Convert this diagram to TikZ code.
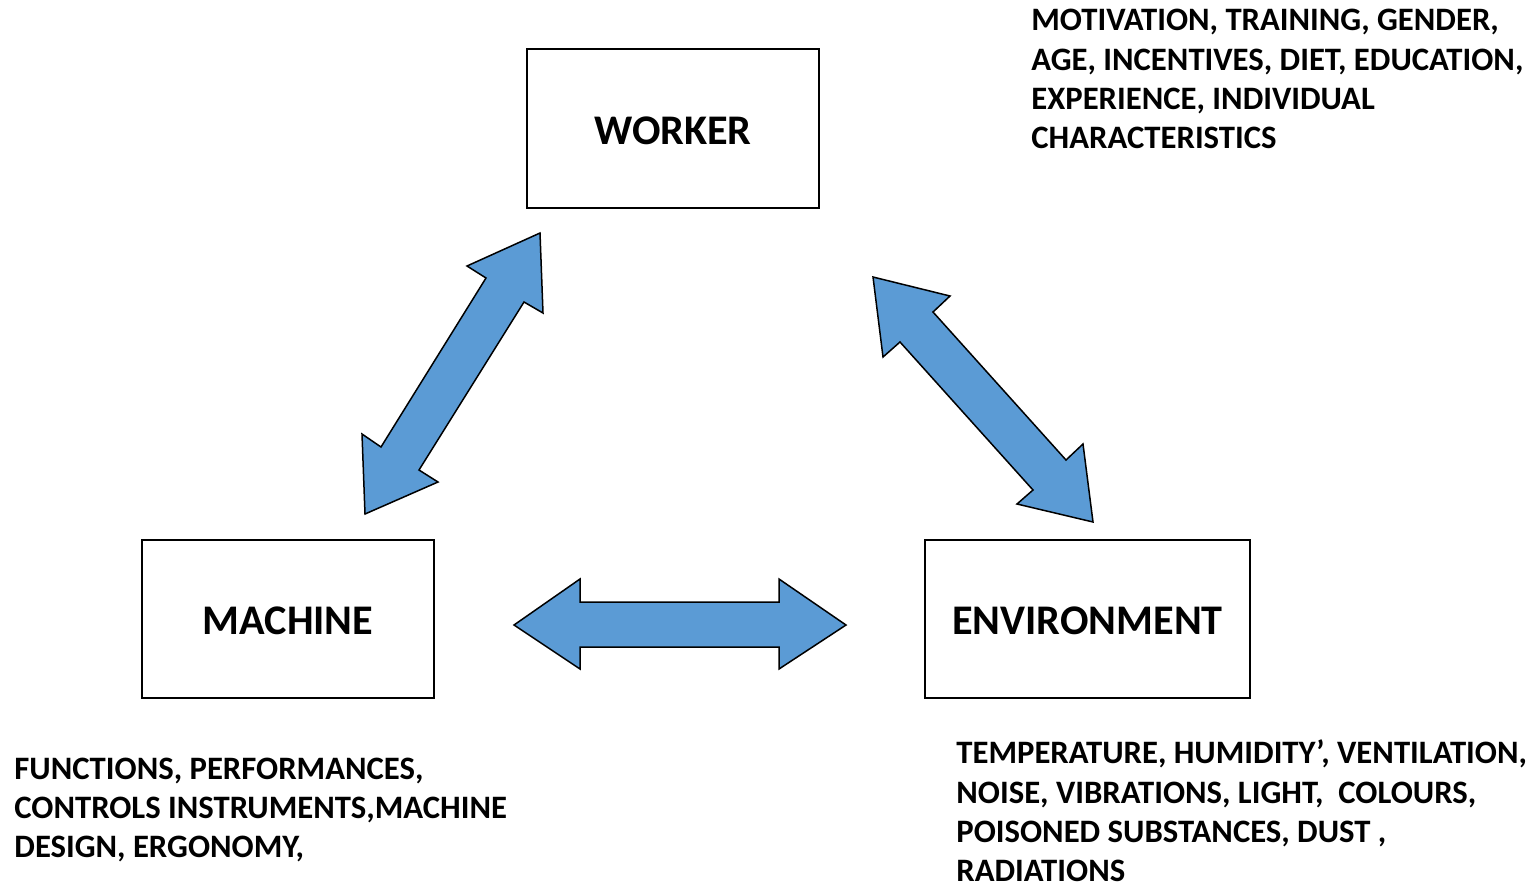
\documentclass[tikz,border=0pt]{standalone}
\usepackage{fontspec}
\setmainfont{Carlito}
\definecolor{arrowblue}{HTML}{5B9BD5}
\begin{document}
\begin{tikzpicture}[x=0.5pt,y=-0.5pt,
  factorbox/.style={draw=black,line width=1pt,fill=white,inner sep=0pt,
    text height=15.6pt,text depth=0pt,
    font=\bfseries\fontsize{21.1}{25}\selectfont},
  fatarrow/.style={draw=black,line width=0.75pt,fill=arrowblue,line join=miter},
  factorlist/.style={anchor=base west,inner sep=0pt,align=left,
    font=\bfseries\fontsize{16.35}{19.6}\selectfont}]
\useasboundingbox (0,0) rectangle (1537,885);

% the three boxes
\node[factorbox,minimum width=146pt,minimum height=79.5pt] (worker) at (673,128.5) {WORKER};
\node[factorbox,minimum width=146pt,minimum height=79pt] (machine) at (288,619) {MACHINE};
\node[factorbox,minimum width=162.5pt,minimum height=79pt] (env) at (1087.5,619) {ENVIRONMENT};

% double-headed block arrows
\draw[fatarrow] (540,233) -- (543,313) -- (524,302) -- (419,470) -- (438,482)
  -- (365,514) -- (362,434) -- (381,447) -- (486,278) -- (467,266) -- cycle;
\draw[fatarrow] (873,277) -- (950,296) -- (933,312) -- (1066,460) -- (1083,444)
  -- (1093,522) -- (1017,504) -- (1033,490) -- (900,342) -- (883,357) -- cycle;
\draw[fatarrow] (514,625) -- (580,579) -- (580,602) -- (779,602) -- (779,579)
  -- (846,625) -- (779,669) -- (779,647) -- (580,647) -- (580,669) -- cycle;

% factor lists (anchored at the baseline of their last line)
\node[factorlist] (wlist) at (1031,148.5) {MOTIVATION, TRAINING, GENDER,\\AGE, INCENTIVES, DIET, EDUCATION,\\EXPERIENCE, INDIVIDUAL\\CHARACTERISTICS};
\node[factorlist] (mlist) at (14,857.5) {FUNCTIONS, PERFORMANCES,\\CONTROLS INSTRUMENTS,MACHINE\\DESIGN, ERGONOMY,};
\node[factorlist] (elist) at (956,881.5) {TEMPERATURE, HUMIDITY’, VENTILATION,\\NOISE, VIBRATIONS, LIGHT, \ COLOURS,\\POISONED SUBSTANCES, DUST ,\\RADIATIONS};
\end{tikzpicture}
\end{document}
